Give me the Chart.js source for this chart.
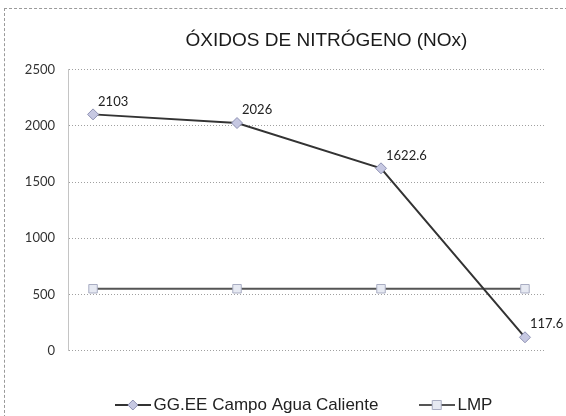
<!DOCTYPE html>
<html>
<head>
<meta charset="utf-8">
<script src="https://cdn.jsdelivr.net/npm/chart.js@4"></script>
<style>
  html, body { margin: 0; padding: 0; background: #fff; }
  #wrap { position: relative; width: 566px; height: 416px; overflow: hidden; }
  #frame { position: absolute; left: 4px; top: 8px; right: -2px; bottom: -2px;
           border-top: 1px dashed #9a9a9a; border-left: 1px dashed #9a9a9a; pointer-events: none; }
</style>
</head>
<body>
<div id="wrap">
  <canvas id="chart" width="566" height="416"></canvas>
  <div id="frame"></div>
</div>
<script>
const months = ['sep-14', 'dic-14', 'mar-15', 'jun-15'];
const noxValues = [2103, 2026, 1622.6, 117.6];
const lmpValues = [550, 550, 550, 550];
const seriesNames = ['GG.EE Campo Agua Caliente', 'LMP'];

// small line+marker picture for each legend entry
function legendSymbol(lineColor, shape, fill, stroke) {
  const c = document.createElement('canvas');
  c.width = 36; c.height = 14;
  const g = c.getContext('2d');
  g.strokeStyle = lineColor; g.lineWidth = 2;
  g.beginPath(); g.moveTo(0, 7); g.lineTo(36, 7); g.stroke();
  g.fillStyle = fill; g.strokeStyle = stroke; g.lineWidth = 1;
  g.beginPath();
  if (shape === 'diamond') {
    g.moveTo(18, 2); g.lineTo(23, 7); g.lineTo(18, 12); g.lineTo(13, 7); g.closePath();
  } else {
    g.rect(13.5, 2.5, 9, 9);
  }
  g.fill(); g.stroke();
  return c;
}
const symbols = [
  legendSymbol('#333', 'diamond', '#c6c8e2', '#8e91b3'),
  legendSymbol('#555', 'square', '#e6e9f2', '#a9adc2')
];

const pointLabels = {
  id: 'pointLabels',
  afterDatasetsDraw(chart) {
    const ctx = chart.ctx;
    const meta = chart.getDatasetMeta(0);
    ctx.save();
    ctx.font = '13px Lato';
    ctx.fillStyle = '#222';
    ctx.textAlign = 'left';
    ctx.textBaseline = 'middle';
    meta.data.forEach((pt, i) => ctx.fillText(String(noxValues[i]), pt.x + 5, pt.y - 13));
    ctx.restore();
  }
};

// the scan's title sits right of centre
const nudgeTitle = {
  id: 'nudgeTitle',
  afterLayout(chart) {
    chart.titleBlock.left += 54;
    chart.titleBlock.right += 54;
  }
};

const ctx = document.getElementById('chart');
new Chart(ctx, {
  type: 'line',
  data: {
    datasets: [{
      label: seriesNames[0],
      data: noxValues.map((v, i) => ({ x: i, y: v })),
      borderColor: '#333',
      borderWidth: 2,
      pointStyle: 'rectRot',
      pointRadius: 5.5,
      pointBackgroundColor: '#c6c8e2',
      pointBorderColor: '#8e91b3',
      pointBorderWidth: 1,
      tension: 0,
    }, {
      label: seriesNames[1],
      data: lmpValues.map((v, i) => ({ x: i, y: v })),
      borderColor: '#555',
      borderWidth: 2,
      pointStyle: 'rect',
      pointRadius: 6,
      pointBackgroundColor: '#e6e9f2',
      pointBorderColor: '#a9adc2',
      pointBorderWidth: 1,
      tension: 0,
    }],
  },
  options: {
    responsive: false,
    animation: false,
    layout: { padding: { left: 0, right: 21, top: 0, bottom: -7.5 } },
    scales: {
      x: {
        type: 'linear',
        min: -0.174,
        max: 3.139,
        grid: { display: false, drawTicks: false },
        border: { display: false },
        afterBuildTicks: (scale) => { scale.ticks = months.map((m, i) => ({ value: i })); },
        afterFit: (scale) => { scale.height = 0; },
        ticks: {
          autoSkip: false,
          maxRotation: 0,
          padding: 12,
          color: '#333',
          font: { family: 'Lato', size: 13 },
          callback: (v) => months[v],
        },
      },
      y: {
        min: 0,
        max: 2500,
        afterFit: (scale) => { scale.width = 68; },
        grid: { color: '#a0a0a0', lineWidth: 1, drawTicks: false },
        border: { display: true, color: '#c4c4c4', dash: [1, 2] },
        ticks: {
          stepSize: 500,
          padding: 13,
          color: '#333',
          font: { family: 'Lato', size: 13 },
          callback: (v) => String(v),
        },
      },
    },
    plugins: {
      title: {
        display: true,
        text: 'ÓXIDOS DE NITRÓGENO (NOx)',
        color: '#1a1a1a',
        font: { family: 'Liberation Sans', size: 19, weight: 'normal' },
        padding: { top: 29, bottom: 18 },
      },
      legend: {
        position: 'bottom',
        fullSize: false,
        labels: {
          usePointStyle: true,
          pointStyleWidth: 24.5,
          padding: 46,
          color: '#222',
          font: { family: 'Liberation Sans', size: 17 },
          generateLabels: (chart) => {
            const items = Chart.defaults.plugins.legend.labels.generateLabels(chart);
            items.forEach((it, i) => { it.pointStyle = symbols[i]; it.rotation = 0; });
            return items;
          },
        },
      },
      tooltip: { enabled: false },
    },
  },
  plugins: [pointLabels, nudgeTitle],
});
</script>
</body>
</html>
